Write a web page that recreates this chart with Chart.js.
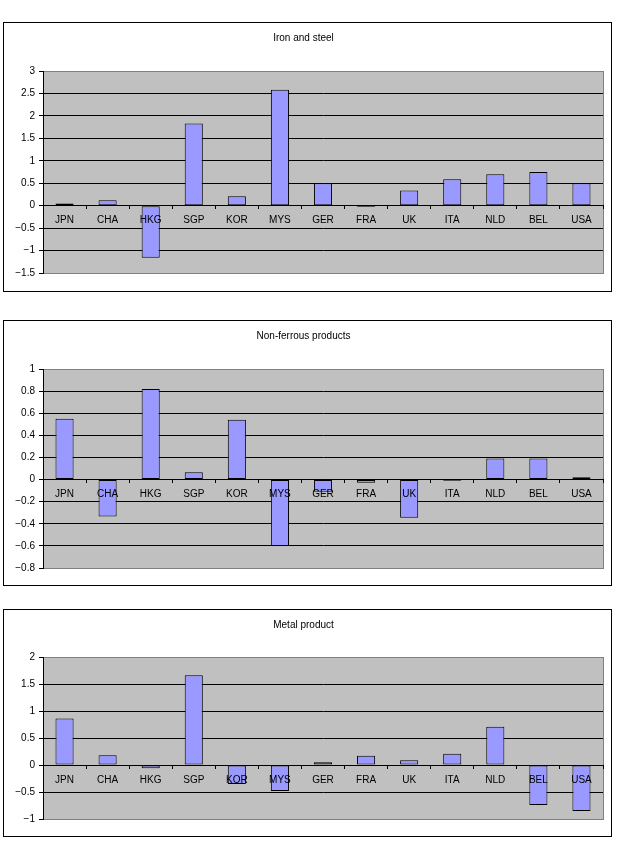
<!DOCTYPE html>
<html>
<head>
<meta charset="utf-8">
<script src="https://cdn.jsdelivr.net/npm/chart.js@4"></script>
<style>
    body { margin: 0; background: #fff; width: 620px; height: 841px; position: relative; overflow: hidden; }
    .box { position: absolute; left: 3px; width: 607px; border: 1px solid #000; background: #fff; }
    .box canvas { display: block; }
</style>
</head>
<body>
<div class="box" id="box1" style="top:22px;height:268px"><canvas id="chart1" width="607" height="268"></canvas></div>
<div class="box" id="box2" style="top:320px;height:264px"><canvas id="chart2" width="607" height="264"></canvas></div>
<div class="box" id="box3" style="top:609px;height:226px"><canvas id="chart3" width="607" height="226"></canvas></div>
<script>
// categories shared by the three panels
var countries = ["JPN", "CHA", "HKG", "SGP", "KOR", "MYS", "GER", "FRA", "UK", "ITA", "NLD", "BEL", "USA"];

// series values
var ironSteel = [0.05, 0.12, -1.16, 1.83, 0.21, 2.58, 0.5, -0.03, 0.34, 0.59, 0.7, 0.75, 0.5];
var nonFerrous = [0.55, -0.335, 0.82, 0.065, 0.54, -0.6, -0.11, -0.03, -0.345, -0.01, 0.19, 0.19, 0.02];
var metalProduct = [0.86, 0.18, -0.06, 1.66, -0.35, -0.48, 0.05, 0.17, 0.09, 0.21, 0.71, -0.74, -0.85];

// y axis tick ranges [min, max, step]
var ironTicks = [-1.5, 3, 0.5];
var nonFerrousTicks = [-0.8, 1, 0.2];
var metalTicks = [-1, 2, 0.5];

Chart.defaults.font.family = "'Liberation Sans', Arial, sans-serif";
Chart.defaults.font.size = 10;
Chart.defaults.color = "#000";

//Grey plot area like the spreadsheet chart
var plotBackground = {
    id: "plotBackground",
    beforeDraw: function (chart) {
        var a = chart.chartArea;
        var ctx = chart.ctx;
        ctx.save();
        ctx.fillStyle = "#c0c0c0";
        ctx.fillRect(a.left, a.top, a.right - a.left, a.bottom - a.top);
        ctx.strokeStyle = "#808080";
        ctx.lineWidth = 1;
        ctx.strokeRect(a.left + 0.5, a.top + 0.5, a.right - a.left, a.bottom - a.top);
        ctx.restore();
    }
};

function minusSign(v) {
    var s = String(Number(Number(v).toFixed(2)));
    return s.replace("-", "\u2212");
}

//Function used to create one panel
function createChart(canvasId, title, values, ticks, padTop, padBottom) {
    var canvasChart = document.getElementById(canvasId);
    return new Chart(canvasChart, {
        type: "bar",
        data: {
            labels: countries,
            datasets: [{
                label: title,
                data: values,
                backgroundColor: "#9999ff",
                borderColor: "#000",
                borderWidth: 1,
                borderSkipped: false,
                categoryPercentage: 0.42,
                barPercentage: 1
            }]
        },
        options: {
            responsive: false,
            devicePixelRatio: 1,
            animation: false,
            layout: { padding: { top: 0, right: 8, bottom: padBottom, left: 0 } },
            plugins: {
                legend: { display: false },
                tooltip: { enabled: false },
                title: {
                    display: true,
                    text: title,
                    font: { size: 10, weight: "normal" },
                    color: "#000",
                    padding: { top: 9, bottom: padTop }
                }
            },
            scales: {
                x: {
                    position: { y: 0 },
                    offset: true,
                    grid: {
                        display: true,
                        offset: true,
                        drawOnChartArea: false,
                        drawTicks: true,
                        tickLength: 3,
                        color: "#000",
                        z: 1
                    },
                    border: { display: true, color: "#000", width: 1, z: 1 },
                    ticks: { padding: 6, color: "#000", font: { size: 10 }, z: 1 }
                },
                y: {
                    min: ticks[0],
                    max: ticks[1],
                    afterFit: function (scale) { scale.width = 39; },
                    grid: {
                        color: function (c) {
                            if (c.tick && (c.tick.value === ticks[0] || c.tick.value === ticks[1])) return "#808080";
                            return "#000";
                        },
                        tickColor: "#000",
                        tickLength: 4,
                        lineWidth: 1
                    },
                    border: { display: true, color: "#000" },
                    ticks: {
                        stepSize: ticks[2],
                        padding: 4,
                        color: "#000",
                        font: { size: 10 },
                        callback: function (v) { return minusSign(v); }
                    }
                }
            }
        },
        plugins: [plotBackground]
    });
}

createChart("chart1", "Iron and steel", ironSteel, ironTicks, 27, 18);
createChart("chart2", "Non-ferrous products", nonFerrous, nonFerrousTicks, 27, 17);
createChart("chart3", "Metal product", metalProduct, metalTicks, 26, 17);
</script>
</body>
</html>
